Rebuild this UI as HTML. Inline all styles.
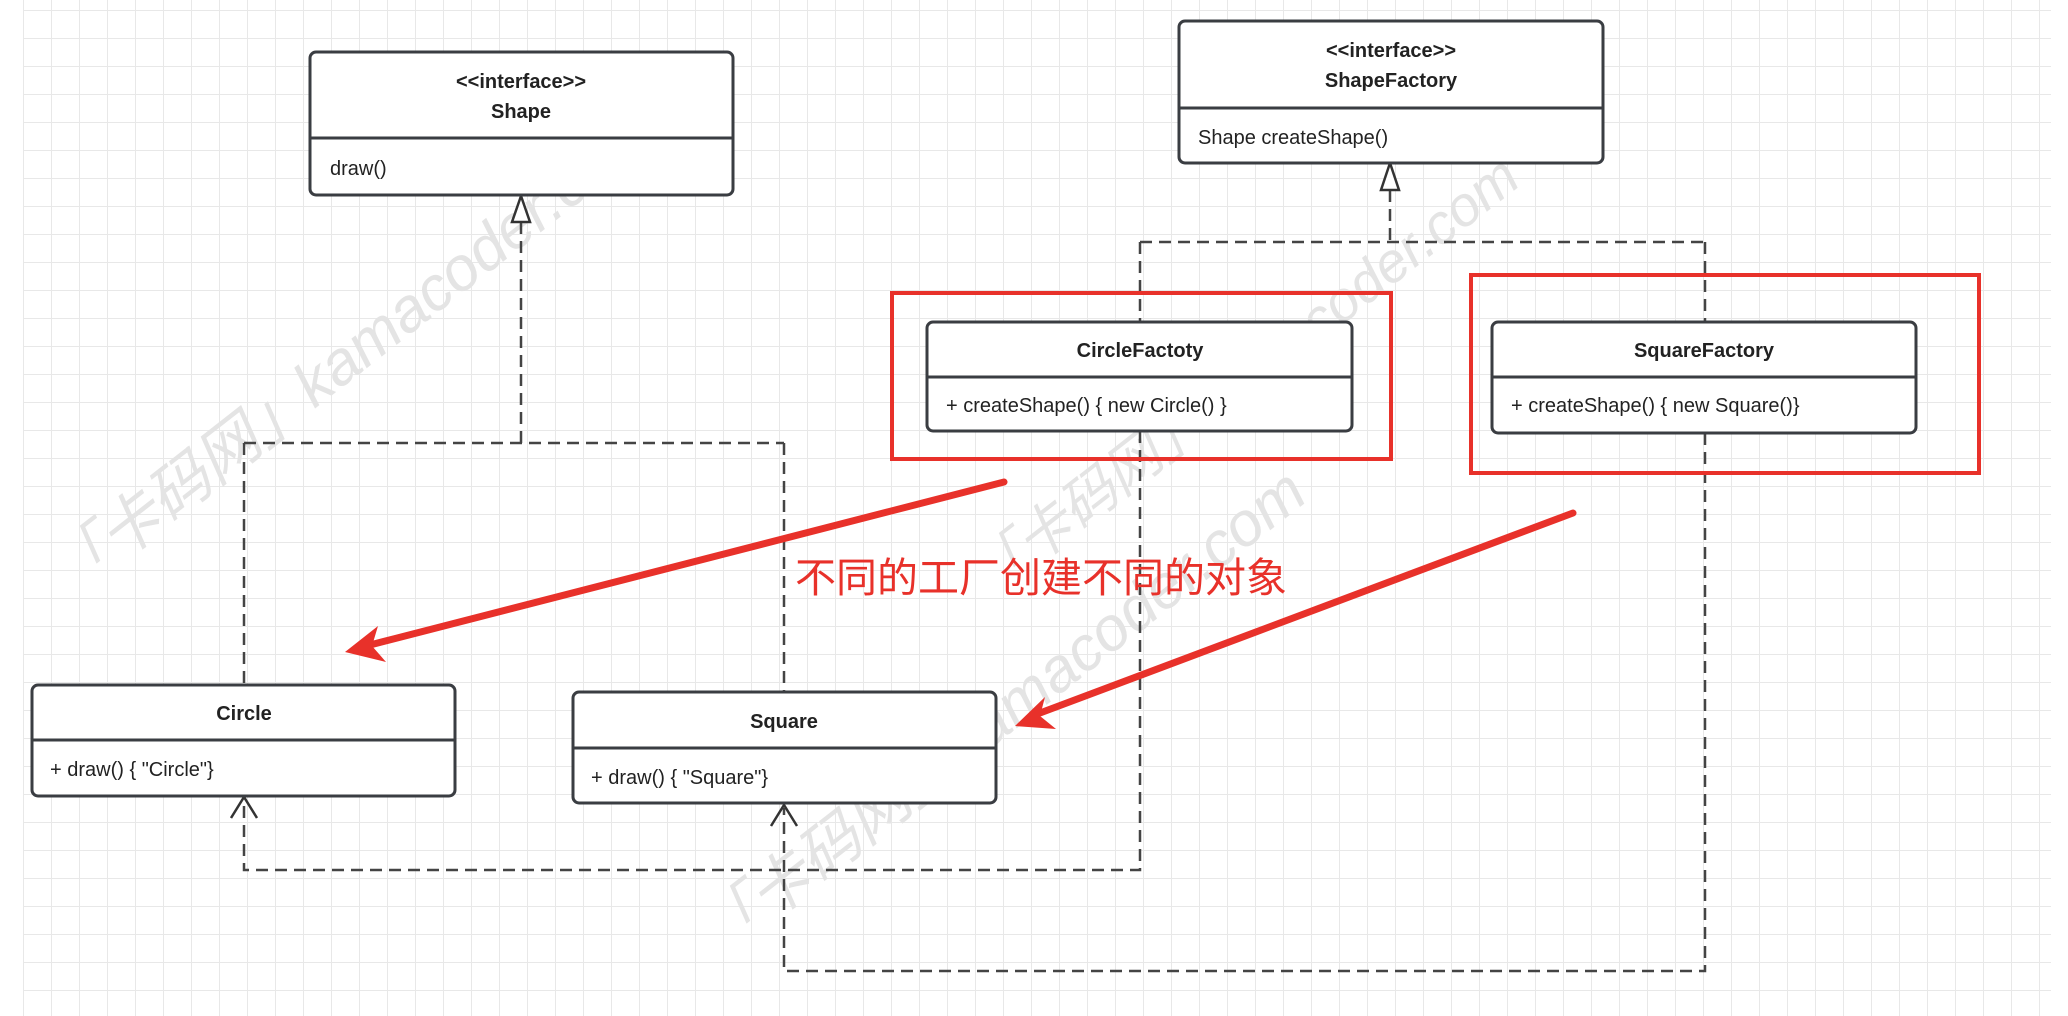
<!DOCTYPE html>
<html><head><meta charset="utf-8"><style>
html,body{margin:0;padding:0;background:#fff;}
svg{display:block;}
</style></head><body>
<svg width="2068" height="1016" viewBox="0 0 2068 1016" xmlns="http://www.w3.org/2000/svg">
<defs>
<pattern id="g" x="23" y="10" width="28" height="28" patternUnits="userSpaceOnUse">
<path d="M0 0H28M0 0V28" stroke="#e8e8e8" stroke-width="2" fill="none"/>
</pattern>
</defs>
<rect x="23" y="0" width="2028" height="1016" fill="url(#g)"/>
<g font-family="Liberation Sans, Noto Sans CJK SC, sans-serif" fill="#e4e4e4" font-size="62" font-style="italic">
<text transform="translate(70,600) rotate(-38)">「卡码网」kamacoder.com</text>
<text transform="translate(720,960) rotate(-38)">「卡码网」kamacoder.com</text>
<text transform="translate(990,600) rotate(-38)" font-size="56">「卡码网」kamacoder.com</text>
</g>
<g fill="none" stroke="#444" stroke-width="2.5" stroke-dasharray="12 7">
<path d="M521 222V443M244 443H784M244 443V685M784 443V692"/>
<path d="M1390 190V242M1140 242H1705M1140 242V322M1705 242V322"/>
<path d="M1140 431V870H244V800"/>
<path d="M1705 433V971H784V808"/>
</g>
<path d="M521 196L512 222H530Z" fill="#fff" stroke="#333" stroke-width="2.5"/>
<path d="M1390 163L1381 190H1399Z" fill="#fff" stroke="#333" stroke-width="2.5"/>
<path d="M231 818L244 797L257 818M771 826L784 805L797 826" fill="none" stroke="#333" stroke-width="2.5"/>
<g fill="#fff" stroke="#3a3d42" stroke-width="3">
<rect x="310" y="52" width="423" height="143" rx="6"/>
<rect x="1179" y="21" width="424" height="142" rx="6"/>
<rect x="927" y="322" width="425" height="109" rx="6"/>
<rect x="1492" y="322" width="424" height="111" rx="6"/>
<rect x="32" y="685" width="423" height="111" rx="6"/>
<rect x="573" y="692" width="423" height="111" rx="6"/>
</g>
<g stroke="#3a3d42" stroke-width="3">
<path d="M310 138H733M1179 108H1603M927 377H1352M1492 377H1916M32 740H455M573 748H996"/>
</g>
<g font-family="Liberation Sans, sans-serif" fill="#222" font-size="20">
<g font-weight="bold" text-anchor="middle">
<text x="521" y="88">&lt;&lt;interface&gt;&gt;</text>
<text x="521" y="118">Shape</text>
<text x="1391" y="57">&lt;&lt;interface&gt;&gt;</text>
<text x="1391" y="87">ShapeFactory</text>
<text x="1140" y="357">CircleFactoty</text>
<text x="1704" y="357">SquareFactory</text>
<text x="244" y="720">Circle</text>
<text x="784" y="728">Square</text>
</g>
<text x="330" y="175">draw()</text>
<text x="1198" y="144">Shape createShape()</text>
<text x="946" y="412">+ createShape() { new Circle() }</text>
<text x="1511" y="412">+ createShape() { new Square()}</text>
<text x="50" y="776">+ draw() { "Circle"}</text>
<text x="591" y="784">+ draw() { "Square"}</text>
</g>
<g fill="none" stroke="#e8312a" stroke-width="4">
<rect x="892" y="293" width="499" height="166"/>
<rect x="1471" y="275" width="508" height="198"/>
</g>
<g stroke="#e8312a" stroke-width="7" stroke-linecap="round">
<path d="M1004 482L370 645"/>
<path d="M1573 513L1040 713"/>
</g>
<path d="M345 652L378 626L372 646L386 662Z" fill="#e8312a"/>
<path d="M1015 726L1045 697L1040 716L1056 729Z" fill="#e8312a"/>
<text x="795" y="592" font-family="Liberation Sans, Noto Sans CJK SC, sans-serif" font-size="41" fill="#e8312a">不同的工厂创建不同的对象</text>
</svg>
</body></html>
